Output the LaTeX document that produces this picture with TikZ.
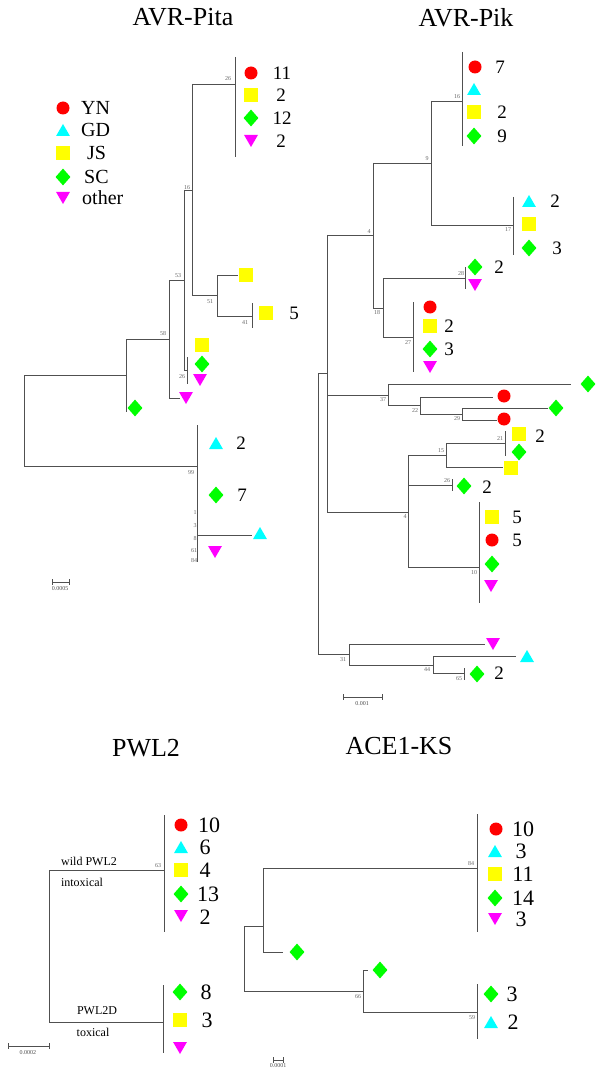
\documentclass[tikz,border=0pt]{standalone}
\usepackage{fontspec}
\setmainfont{Liberation Serif}
\usetikzlibrary{shapes.geometric}
\definecolor{cR}{RGB}{255,0,0}
\definecolor{cC}{RGB}{0,255,255}
\definecolor{cY}{RGB}{255,255,0}
\definecolor{cG}{RGB}{0,255,0}
\definecolor{cM}{RGB}{255,0,255}
\definecolor{cL}{RGB}{80,80,80}
\tikzset{
  br/.style={draw=cL, line width=0.8pt},
  bs/.style={font=\fontsize{6}{6}\selectfont, text=black!60, inner sep=0},
  yn/.style={circle, fill=cR, minimum size=13pt, inner sep=0},
  gd/.style={regular polygon, regular polygon sides=3, fill=cC, minimum size=16pt, inner sep=0, yshift=-2pt},
  js/.style={rectangle, fill=cY, minimum size=14.5pt, inner sep=0},
  sc/.style={diamond, fill=cG, minimum width=15pt, minimum height=17pt, inner sep=0},
  ot/.style={regular polygon, regular polygon sides=3, shape border rotate=180, fill=cM, minimum size=16pt, inner sep=0, yshift=2pt},
  num/.style={font=\fontsize{19}{19}\selectfont, inner sep=0},
  bnum/.style={font=\fontsize{22}{22}\selectfont, inner sep=0},
  lgd/.style={font=\fontsize{20}{20}\selectfont, inner sep=0, anchor=west},
  ttl/.style={font=\fontsize{26}{26}\selectfont, inner sep=0},
  lab/.style={font=\fontsize{12}{12}\selectfont, inner sep=0},
  sclab/.style={font=\fontsize{6}{6}\selectfont, text=black!70, inner sep=0},
}
\begin{document}
\begin{tikzpicture}[x=1pt,y=-1pt]
\useasboundingbox (0,0) rectangle (600,1091);
\fill[white] (0,0) rectangle (600,1091);

% ================= AVR-Pita =================
\node[ttl] (t1) at (183,17) {AVR-Pita};
% legend
\node[yn] (l1) at (63,108) {}; \node[lgd] (lt1) at (81,108) {YN};
\node[gd] (l2) at (63,130) {}; \node[lgd] (lt2) at (81,130) {GD};
\node[js] (l3) at (63,153) {}; \node[lgd] (lt3) at (87,153) {JS};
\node[sc] (l4) at (63,177) {}; \node[lgd] (lt4) at (84,177) {SC};
\node[ot] (l5) at (63,198) {}; \node[lgd] (lt5) at (82,198) {other};
% branches
\draw[br] (24,375)--(24,466) (24,375)--(126,375) (24,466)--(197,466);
\draw[br] (126,339)--(126,412) (126,339)--(169,339);
\draw[br] (169,280)--(169,398) (169,280)--(184,280) (169,398)--(180,398);
\draw[br] (184,190)--(184,370) (184,190)--(192,190) (184,370)--(187,370);
\draw[br] (187,357)--(187,384);
\draw[br] (192,84)--(192,295) (192,84)--(235,84) (192,295)--(217,295);
\draw[br] (235,57)--(235,157);
\draw[br] (217,275)--(217,316) (217,275)--(238,275) (217,316)--(252,316);
\draw[br] (252,303)--(252,328);
\draw[br] (197,425)--(197,562) (197,535)--(252,535);
% scale bar
\draw[br] (52,582)--(69,582) (52,579)--(52,585) (69,579)--(69,585);
\node[sclab] (s1) at (60,589) {0.0005};
% bootstrap
\node[bs] (b1) at (228,79) {26};
\node[bs] (b2) at (187,188) {16};
\node[bs] (b3) at (178,276) {53};
\node[bs] (b4) at (163,334) {58};
\node[bs] (b5) at (182,377) {26};
\node[bs] (b6) at (210,302) {51};
\node[bs] (b7) at (245,323) {41};
\node[bs] (b8) at (191,473) {99};
\node[bs] (b9) at (195,513) {1};
\node[bs] (b10) at (195,526) {3};
\node[bs] (b11) at (195,539) {8};
\node[bs] (b12) at (194,551) {61};
\node[bs] (b13) at (194,561) {84};
% leaves
\node[yn] (a1) at (251,73) {}; \node[num] (n1) at (282,73) {11};
\node[js] (a2) at (251,95) {}; \node[num] (n2) at (281,95) {2};
\node[sc] (a3) at (251,118) {}; \node[num] (n3) at (282,118) {12};
\node[ot] (a4) at (251,141) {}; \node[num] (n4) at (281,141) {2};
\node[js] (a5) at (246,275) {};
\node[js] (a6) at (266,313) {}; \node[num] (n5) at (294,313) {5};
\node[js] (a7) at (202,345) {};
\node[sc] (a8) at (202,364) {};
\node[ot] (a9) at (200,380) {};
\node[ot] (a10) at (186,398) {};
\node[sc] (a11) at (135,408) {};
\node[gd] (a12) at (216,443) {}; \node[num] (n6) at (241,443) {2};
\node[sc] (a13) at (216,495) {}; \node[num] (n7) at (242,495) {7};
\node[gd] (a14) at (260,533) {};
\node[ot] (a15) at (215,552) {};

% ================= AVR-Pik =================
\node[ttl] (t2) at (466,18) {AVR-Pik};
\draw[br] (318,373)--(318,654) (318,373)--(327,373) (318,654)--(349,654);
\draw[br] (327,235)--(327,512) (327,235)--(373,235) (327,395)--(388,395) (327,512)--(408,512);
\draw[br] (373,163)--(373,308) (373,163)--(431,163) (373,308)--(383,308);
\draw[br] (431,101)--(431,225) (431,101)--(462,101) (431,225)--(513,225);
\draw[br] (462,52)--(462,146);
\draw[br] (513,197)--(513,255);
\draw[br] (383,278)--(383,337) (383,278)--(465,278) (383,337)--(413,337);
\draw[br] (465,267)--(465,289);
\draw[br] (413,302)--(413,372);
\draw[br] (388,384)--(388,405) (388,384)--(571,384) (388,405)--(420,405);
\draw[br] (420,397)--(420,414) (420,397)--(493,397) (420,414)--(462,414);
\draw[br] (462,408)--(462,420) (462,408)--(548,408) (462,420)--(497,420);
\draw[br] (408,455)--(408,567) (408,455)--(446,455) (408,485)--(452,485) (408,567)--(479,567);
\draw[br] (446,443)--(446,467) (446,443)--(505,443) (446,467)--(503,467);
\draw[br] (505,431)--(505,456);
\draw[br] (452,479)--(452,491);
\draw[br] (479,502)--(479,603);
\draw[br] (349,644)--(349,665) (349,644)--(485,644) (349,665)--(433,665);
\draw[br] (433,656)--(433,673) (433,656)--(516,656) (433,673)--(464,673);
\draw[br] (464,668)--(464,680);
\draw[br] (343,697)--(382,697) (343,694)--(343,700) (382,694)--(382,700);
\node[sclab] (s2) at (362,704) {0.001};
% bootstrap
\node[bs] (c1) at (457,97) {16};
\node[bs] (c2) at (427,159) {9};
\node[bs] (c3) at (508,230) {17};
\node[bs] (c4) at (369,232) {4};
\node[bs] (c5) at (377,313) {18};
\node[bs] (c6) at (461,274) {28};
\node[bs] (c7) at (408,343) {27};
\node[bs] (c8) at (383,400) {37};
\node[bs] (c9) at (415,411) {22};
\node[bs] (c10) at (457,419) {29};
\node[bs] (c11) at (441,451) {15};
\node[bs] (c12) at (500,439) {21};
\node[bs] (c13) at (405,517) {4};
\node[bs] (c14) at (447,481) {26};
\node[bs] (c15) at (474,573) {10};
\node[bs] (c16) at (343,660) {31};
\node[bs] (c17) at (427,670) {44};
\node[bs] (c18) at (459,679) {65};
% leaves
\node[yn] (k1) at (475,67) {}; \node[num] (m1) at (500,67) {7};
\node[gd] (k2) at (474,89) {};
\node[js] (k3) at (474,112) {}; \node[num] (m2) at (502,112) {2};
\node[sc] (k4) at (474,136) {}; \node[num] (m3) at (502,136) {9};
\node[gd] (k5) at (529,201) {}; \node[num] (m4) at (555,201) {2};
\node[js] (k6) at (529,224) {};
\node[sc] (k7) at (529,248) {}; \node[num] (m5) at (557,248) {3};
\node[sc] (k8) at (475,267) {}; \node[num] (m6) at (499,267) {2};
\node[ot] (k9) at (475,285) {};
\node[yn] (k10) at (430,307) {};
\node[js] (k11) at (430,326) {}; \node[num] (m7) at (449,326) {2};
\node[sc] (k12) at (430,349) {}; \node[num] (m8) at (449,349) {3};
\node[ot] (k13) at (430,367) {};
\node[sc] (k14) at (588,384) {};
\node[yn] (k15) at (504,396) {};
\node[sc] (k16) at (556,408) {};
\node[yn] (k17) at (504,419) {};
\node[js] (k18) at (519,434) {}; \node[num] (m9) at (540,436) {2};
\node[sc] (k19) at (519,452) {};
\node[js] (k20) at (511,468) {};
\node[sc] (k21) at (464,486) {}; \node[num] (m10) at (487,487) {2};
\node[js] (k22) at (492,517) {}; \node[num] (m11) at (517,517) {5};
\node[yn] (k23) at (492,540) {}; \node[num] (m12) at (517,540) {5};
\node[sc] (k24) at (492,564) {};
\node[ot] (k25) at (491,586) {};
\node[ot] (k26) at (493,644) {};
\node[gd] (k27) at (527,656) {};
\node[sc] (k28) at (477,674) {}; \node[num] (m13) at (499,673) {2};

% ================= PWL2 =================
\node[ttl] (t3) at (146,748) {PWL2};
\draw[br] (164,815)--(164,932) (49,870)--(164,870) (49,870)--(49,1022) (49,1022)--(163,1022);
\draw[br] (163,985)--(163,1053);
\draw[br] (8,1046)--(49,1046) (8,1043)--(8,1049) (49,1043)--(49,1049);
\node[sclab] (s3) at (28,1053) {0.0002};
\node[bs] (d1) at (158,866) {63};
\node[lab] (w1) at (89,861) {wild PWL2};
\node[lab] (w2) at (82,882) {intoxical};
\node[lab] (w3) at (97,1011) {PWL2D};
\node[lab] (w4) at (93,1032) {toxical};
\node[yn] (p1) at (181,825) {}; \node[bnum] (q1) at (209,825) {10};
\node[gd] (p2) at (181,847) {}; \node[bnum] (q2) at (205,847) {6};
\node[js] (p3) at (181,870) {}; \node[bnum] (q3) at (205,870) {4};
\node[sc] (p4) at (181,894) {}; \node[bnum] (q4) at (208,894) {13};
\node[ot] (p5) at (181,916) {}; \node[bnum] (q5) at (205,917) {2};
\node[sc] (p6) at (180,992) {}; \node[bnum] (q6) at (206,992) {8};
\node[js] (p7) at (180,1020) {}; \node[bnum] (q7) at (207,1020) {3};
\node[ot] (p8) at (180,1048) {};

% ================= ACE1-KS =================
\node[ttl] (t4) at (399,746) {ACE1-KS};
\draw[br] (244,926)--(244,991) (244,926)--(263,926) (244,991)--(363,991);
\draw[br] (263,868)--(263,952) (263,868)--(477,868) (263,952)--(283,952);
\draw[br] (477,814)--(477,932);
\draw[br] (363,970)--(363,1012) (363,970)--(368,970) (363,1012)--(477,1012);
\draw[br] (477,984)--(477,1039);
\draw[br] (273,1060)--(283,1060) (273,1057)--(273,1063) (283,1057)--(283,1063);
\node[sclab] (s4) at (278,1066) {0.0001};
\node[bs] (e1) at (471,864) {84};
\node[bs] (e2) at (358,997) {66};
\node[bs] (e3) at (472,1018) {59};
\node[yn] (r1) at (496,829) {}; \node[bnum] (u1) at (523,829) {10};
\node[gd] (r2) at (495,851) {}; \node[bnum] (u2) at (521,851) {3};
\node[js] (r3) at (495,874) {}; \node[bnum] (u3) at (523,874) {11};
\node[sc] (r4) at (495,898) {}; \node[bnum] (u4) at (523,898) {14};
\node[ot] (r5) at (495,919) {}; \node[bnum] (u5) at (521,919) {3};
\node[sc] (r6) at (297,952) {};
\node[sc] (r7) at (380,970) {};
\node[sc] (r8) at (491,994) {}; \node[bnum] (u6) at (512,994) {3};
\node[gd] (r9) at (491,1022) {}; \node[bnum] (u7) at (513,1022) {2};
\end{tikzpicture}
\end{document}
